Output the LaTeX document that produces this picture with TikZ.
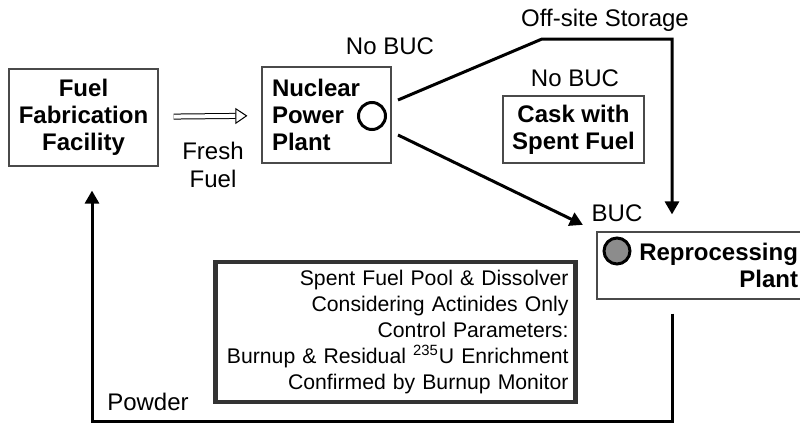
\documentclass[tikz,border=0pt]{standalone}
\usepackage{fontspec}
\setmainfont{Liberation Sans}
\usepackage{tikz}
\usetikzlibrary{arrows.meta,positioning,calc}
\definecolor{Edge}{HTML}{4A4A4A}
\definecolor{Frame}{HTML}{333333}
\definecolor{Ball}{HTML}{8C8C8C}

\begin{document}
\begin{tikzpicture}[
  x=0.5pt,y=-0.5pt,
  plantbox/.style={draw=Edge,line width=0.6pt,inner sep=0pt,align=center,font=\fontsize{12}{13.6}\selectfont\bfseries},
  notebox/.style={draw=Frame,line width=2.4pt,inner xsep=3.5pt,text width=173pt,minimum height=70pt,align=right,font=\fontsize{10.6}{12.9}\selectfont},
  tag/.style={inner sep=0pt,align=center,font=\fontsize{12}{13.6}\selectfont},
  ring/.style={circle,draw,line width=1.5pt,inner sep=0pt,minimum size=13.5pt},
  flow/.style={-{Triangle[length=6.5pt,width=7pt]},line width=1.5pt,line join=miter},
  feed/.style={double,double distance=2pt,line width=0.5pt,-{Triangle[open,length=6pt,width=8pt]}}
]
\useasboundingbox (0,0) rectangle (800,423);
\node[plantbox,minimum width=74.5pt,minimum height=48.5pt] (fab) at (83.5,117.5) {Fuel\\Fabrication\\Facility};
\node[plantbox,text width=54.5pt,inner xsep=5pt,minimum height=48pt,align=left] (npp) at (326.5,115) {Nuclear\\Power\\Plant};
\node[ring] (nppcore) at (372,116) {};
\node[plantbox,minimum width=70.5pt,minimum height=33.5pt] (cask) at (573.5,129.5) {Cask with\\Spent Fuel};
\node[plantbox,text width=95.5pt,inner xsep=5pt,minimum height=33.5pt,align=right] (repro) at (702.5,265.5) {Reprocessing\\Plant};
\node[ring,fill=Ball,minimum size=13pt] (reprocore) at (617,251) {};
\node[notebox] (note) at (395.5,332) {Spent Fuel Pool \& Dissolver\\Considering Actinides Only\\Control Parameters:\\Burnup \& Residual \smash{\textsuperscript{235}}U Enrichment\\Confirmed by Burnup Monitor};

\node[tag] (nobuc1) at (390,46) {No BUC};
\node[tag] (offsite) at (605,20) {Off-site Storage};
\node[tag] (nobuc2) at (575,78) {No BUC};
\node[tag] (buc) at (617,213) {BUC};
\node[tag] (fresh) at (213,165) {Fresh\\Fuel};
\node[tag] (powder) at (148,402) {Powder};

\coordinate (upper) at (398,100);
\coordinate (lower) at (398,135);
\coordinate (bendA) at (542,39);
\coordinate (bendB) at (672,39);
\coordinate (cornerR) at (672,421);
\coordinate (cornerL) at (92,421);

\draw[feed,shorten <=7.5pt,shorten >=7pt] (fab) -- (npp);
\draw[flow,shorten >=8.5pt] (upper) -- (bendA) -- (bendB) -- (bendB |- repro.north);
\draw[flow,shorten >=7.5pt] (lower) -- (repro.north west);
\draw[flow,shorten <=7pt,shorten >=12pt] (bendB |- repro.south) -- (cornerR) -- (cornerL) -- (cornerL |- fab.south);
\end{tikzpicture}
\end{document}
